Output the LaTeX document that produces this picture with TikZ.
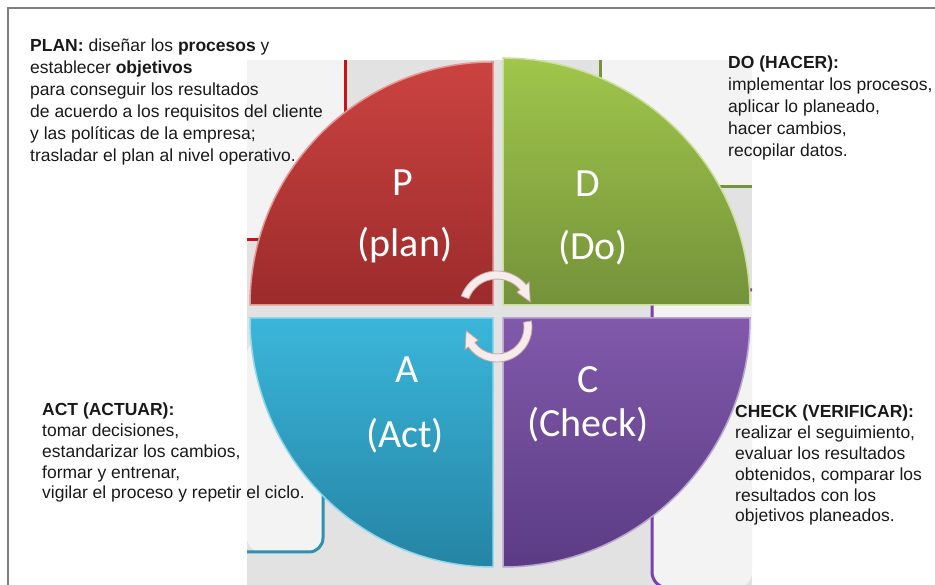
\documentclass[tikz,border=0pt]{standalone}
\usepackage{fontspec}
\setmainfont{Liberation Sans}
\newfontfamily\calibrifont{Carlito}
\usetikzlibrary{calc}

\definecolor{framegray}{HTML}{7F7F7F}
\definecolor{backgray}{HTML}{E2E2E2}
\definecolor{panelgray}{HTML}{F3F3F3}
\definecolor{planredtop}{HTML}{CB4341}
\definecolor{planredbot}{HTML}{9C2B2B}
\definecolor{dogreentop}{HTML}{A0C64B}
\definecolor{dogreenbot}{HTML}{74923A}
\definecolor{actbluetop}{HTML}{3AB6DA}
\definecolor{actbluebot}{HTML}{2584A4}
\definecolor{checkpurtop}{HTML}{8159AB}
\definecolor{checkpurbot}{HTML}{5B3C84}
\definecolor{panelred}{HTML}{C0161B}
\definecolor{panelgreen}{HTML}{77933C}
\definecolor{panelblue}{HTML}{2F90AF}
\definecolor{panelpurple}{HTML}{7A3FB0}
\definecolor{arrowfill}{HTML}{F6ECEC}
\definecolor{arrowedge}{HTML}{C9A6A6}

\tikzset{
  quadlabel/.style={text=white, font=\calibrifont\fontsize{40}{40}\selectfont, anchor=base, inner sep=0pt},
  infotext/.style={anchor=base west, align=left, inner sep=0pt, text=black!90, font=\fontsize{17.5}{22}\selectfont},
  infotight/.style={infotext, font=\fontsize{17.5}{20.8}\selectfont},
  panelline/.style={line width=3pt},
  cyclearrow/.style={fill=arrowfill, draw=arrowedge, line width=0.8pt},
}

\begin{document}
\begin{tikzpicture}[x=1pt,y=1pt]
  \useasboundingbox (0,0) rectangle (935,585);
  % frame
  \draw[framegray, line width=1.2pt] (8,0) -- (8,577) -- (935,577);

  % background of the cycle
  \fill[backgray] (247,0) rectangle (752,525);
  \fill[panelgray] (247,345) rectangle (345,525);
  \draw[panelline, panelred] (345,525) -- (345,345) -- (247,345);
  \fill[panelgray] (600,398) rectangle (752,525);
  \draw[panelline, panelgreen] (600,525) -- (600,398) -- (752,398);
  \fill[panelgray, rounded corners=14pt] (247,245) -- (323,245) -- (323,33) -- (247,33) -- cycle;
  \draw[panelline, panelblue, rounded corners=14pt] (323,245) -- (323,33) -- (247,33);
  \fill[panelgray, rounded corners=16pt] (752,295) -- (652,295) -- (652,-3) -- (752,-3) -- cycle;
  \draw[panelline, panelpurple, rounded corners=16pt] (752,295) -- (652,295) -- (652,-3) -- (752,-3);

  % quadrants
  \fill[top color=planredtop, bottom color=planredbot] (493,280) -- (250,280) arc[start angle=180, end angle=90, radius=243] -- cycle;
  \draw[planredtop!55!white, line width=1.5pt] (493,280) -- (250,280) arc[start angle=180, end angle=90, radius=243] -- cycle;
  \fill[top color=dogreentop, bottom color=dogreenbot] (503,280) -- (503,527) arc[start angle=90, end angle=0, radius=247] -- cycle;
  \draw[dogreentop!55!white, line width=1.5pt] (503,280) -- (503,527) arc[start angle=90, end angle=0, radius=247] -- cycle;
  \fill[top color=actbluetop, bottom color=actbluebot] (493,267) -- (250,267) arc[start angle=180, end angle=270, x radius=243, y radius=249] -- cycle;
  \draw[actbluetop!55!white, line width=1.5pt] (493,267) -- (250,267) arc[start angle=180, end angle=270, x radius=243, y radius=249] -- cycle;
  \fill[top color=checkpurtop, bottom color=checkpurbot] (503,267) -- (750,267) arc[start angle=0, end angle=-90, x radius=247, y radius=249] -- cycle;
  \draw[checkpurtop!55!white, line width=1.5pt] (503,267) -- (750,267) arc[start angle=0, end angle=-90, x radius=247, y radius=249] -- cycle;

  % circular arrows in the middle
  \coordinate (topc) at (497,276);
  \coordinate (botc) at (497,258);
  \filldraw[cyclearrow] ($(topc)+(160:38)$) arc[start angle=160, end angle=40, radius=38]
    -- ($(topc)+(40:42)$) -- ($(topc)+(12:34)$) -- ($(topc)+(40:26)$) -- ($(topc)+(40:30)$)
    arc[start angle=40, end angle=160, radius=30] -- cycle;
  \filldraw[cyclearrow] ($(botc)+(10:35)$) arc[start angle=10, end angle=-145, radius=35]
    -- ($(botc)+(-145:39)$) -- ($(botc)+(-173:31)$) -- ($(botc)+(-145:23)$) -- ($(botc)+(-145:27)$)
    arc[start angle=-145, end angle=10, radius=27] -- cycle;

  % quadrant labels
  \node[quadlabel] (pletter) at (403,389) {P};
  \node[quadlabel] (pword) at (405,328) {(plan)};
  \node[quadlabel] (dletter) at (588,388) {D};
  \node[quadlabel] (dword) at (593,325) {(Do)};
  \node[quadlabel] (aletter) at (407,202) {A};
  \node[quadlabel] (aword) at (405,137) {(Act)};
  \node[quadlabel] (cletter) at (588,192) {C};
  \node[quadlabel] (cword) at (588,148) {(Check)};

  % descriptions (base = last line)
  \node[infotext] (plantext) at (30,423) {\textbf{PLAN:} diseñar los \textbf{procesos} y\\
    establecer \textbf{objetivos}\\
    para conseguir los resultados\\
    de acuerdo a los requisitos del cliente\\
    y las políticas de la empresa;\\
    trasladar el plan al nivel operativo.};
  \node[infotext] (dotext) at (728,428) {\textbf{DO (HACER):}\\
    implementar los procesos,\\
    aplicar lo planeado,\\
    hacer cambios,\\
    recopilar datos.};
  \node[infotight] (acttext) at (42,86) {\textbf{ACT (ACTUAR):}\\
    tomar decisiones,\\
    estandarizar los cambios,\\
    formar y entrenar,\\
    vigilar el proceso y repetir el ciclo.};
  \node[infotight] (checktext) at (735,63) {\textbf{CHECK (VERIFICAR):}\\
    realizar el seguimiento,\\
    evaluar los resultados\\
    obtenidos, comparar los\\
    resultados con los\\
    objetivos planeados.};
\end{tikzpicture}
\end{document}
